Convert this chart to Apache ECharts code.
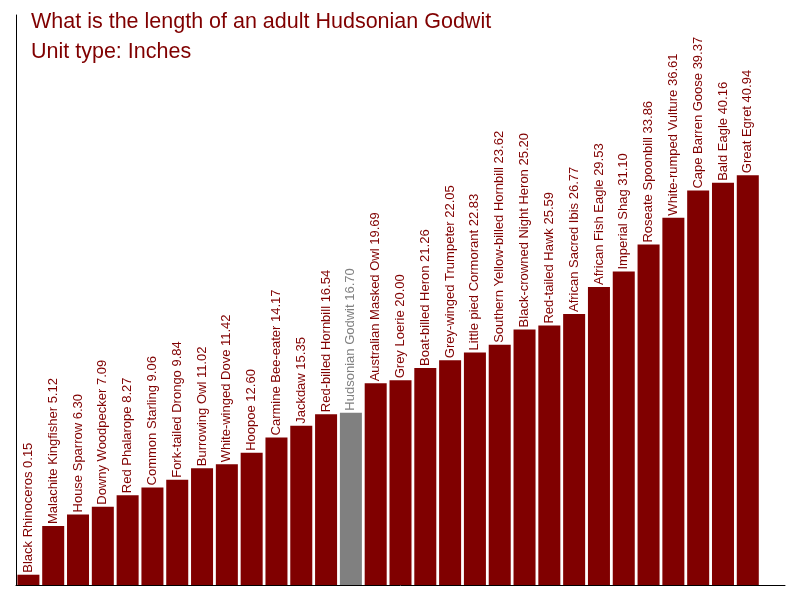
<!DOCTYPE html>
<html lang="en">
<head>
  <meta charset="UTF-8">
  <title>Hudsonian Godwit</title>
  <script src="https://cdn.jsdelivr.net/npm/echarts@6/dist/echarts.min.js"></script>
  <style>
    html, body { margin: 0; padding: 0; background: #fff; }
    #chart { width: 800px; height: 600px; }
  </style>
</head>
<body>
  <div id="chart"></div>
  <script>
    // birds, sorted by length
    var birds = ['Black Rhinoceros', 'Malachite Kingfisher', 'House Sparrow', 'Downy Woodpecker',
      'Red Phalarope', 'Common Starling', 'Fork-tailed Drongo', 'Burrowing Owl', 'White-winged Dove',
      'Hoopoe', 'Carmine Bee-eater', 'Jackdaw', 'Red-billed Hornbill', 'Hudsonian Godwit',
      'Australian Masked Owl', 'Grey Loerie', 'Boat-billed Heron', 'Grey-winged Trumpeter',
      'Little pied Cormorant', 'Southern Yellow-billed Hornbill', 'Black-crowned Night Heron',
      'Red-tailed Hawk', 'African Sacred Ibis', 'African Fish Eagle', 'Imperial Shag',
      'Roseate Spoonbill', 'White-rumped Vulture', 'Cape Barren Goose', 'Bald Eagle', 'Great Egret'];
    var lengths = [0.15, 5.12, 6.30, 7.09, 8.27, 9.06, 9.84, 11.02, 11.42, 12.60, 14.17, 15.35,
      16.54, 16.70, 19.69, 20.00, 21.26, 22.05, 22.83, 23.62, 25.20, 25.59, 26.77, 29.53, 31.10,
      33.86, 36.61, 39.37, 40.16, 40.94];
    var highlight = 'Hudsonian Godwit';

    var yMin = -0.9;
    var yMax = 57.3;

    var chart = echarts.init(document.getElementById('chart'));

    function renderItem(params, api) {
      var idx = api.value(0);
      var val = api.value(1);
      var top = api.coord([idx, val]);
      var base = api.coord([idx, yMin]);
      var w = api.size([1, 0])[0] - 2.8;
      var color = birds[idx] === highlight ? '#808080' : '#800000';
      return {
        type: 'group',
        children: [{
          type: 'rect',
          shape: { x: top[0] - w / 2, y: top[1], width: w, height: base[1] - top[1] },
          style: { fill: color }
        }, {
          type: 'text',
          x: top[0],
          y: top[1] - 2,
          rotation: Math.PI / 2,
          style: {
            text: birds[idx] + ' ' + val.toFixed(2),
            fill: color,
            font: '13px "Liberation Sans", Arial, sans-serif',
            align: 'left',
            verticalAlign: 'middle'
          }
        }]
      };
    }

    var seriesData = lengths.map(function (v, i) { return [i, v]; });

    chart.setOption({
      animation: false,
      title: {
        text: 'What is the length of an adult Hudsonian Godwit\nUnit type: Inches',
        left: 31,
        top: 7,
        padding: 0,
        textStyle: {
          color: '#800000',
          fontFamily: '"Liberation Sans", Arial, sans-serif',
          fontSize: 21.5,
          fontWeight: 'normal',
          lineHeight: 30
        }
      },
      grid: { left: 16, right: 15, top: 15, bottom: 15, containLabel: false },
      xAxis: {
        type: 'category',
        data: birds,
        max: birds.length,
        axisLine: { onZero: false, lineStyle: { color: '#000', width: 1 } },
        axisTick: { show: false },
        axisLabel: { show: false },
        splitLine: { show: false }
      },
      yAxis: {
        type: 'value',
        min: yMin,
        max: yMax,
        axisLine: { show: true, lineStyle: { color: '#000', width: 1 } },
        axisTick: { show: false },
        axisLabel: { show: false },
        splitLine: { show: false }
      },
      series: [{
        type: 'custom',
        renderItem: renderItem,
        encode: { x: 0, y: 1 },
        data: seriesData
      }]
    });
  </script>
</body>
</html>
